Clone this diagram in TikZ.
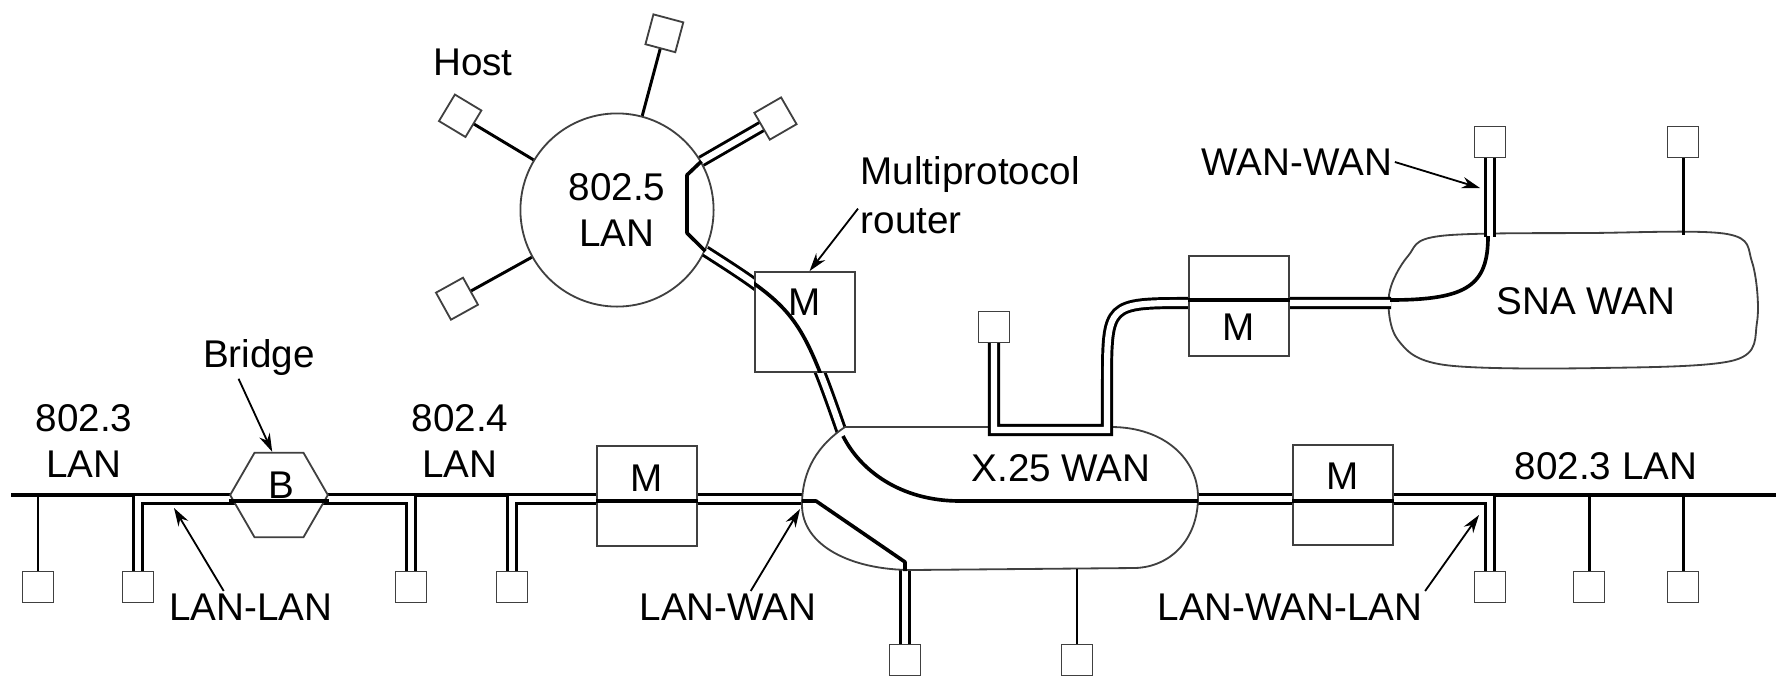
\documentclass[tikz,border=0pt]{standalone}
\usepackage{fontspec}
\setmainfont{Liberation Sans}
\usetikzlibrary{arrows.meta,shapes.geometric,calc}

\tikzset{
  host/.style={draw=black!75, fill=white, line width=0.8pt, minimum size=13.6pt, inner sep=0pt},
  router/.style={draw=black!75, fill=white, line width=0.8pt, minimum size=44pt, inner sep=0pt},
  bridgebox/.style={draw=black!75, fill=white, line width=0.8pt, regular polygon, regular polygon sides=6, minimum size=43pt, inner sep=0pt},
  netline/.style={draw=black!75, fill=white, line width=0.8pt},
  bus/.style={line width=1.7pt},
  drop/.style={line width=1.3pt},
  inner/.style={line width=1.6pt, line join=round},
  route/.style={double=white, double distance=2.7pt, line width=1.3pt},
  pointer/.style={line width=0.8pt, -{Stealth[length=8pt, width=5pt]}},
  lbl/.style={inner sep=1pt, align=center},
}

\begin{document}
\begin{tikzpicture}[x=0.44pt, y=-0.44pt, font=\fontsize{17}{20}\selectfont]
  \useasboundingbox (0,0) rectangle (1776,677);

  %% =========================================================
  %% HOST POSITIONS -- pixel grid, y runs down
  %% =========================================================
  \coordinate (pa) at (38,587);    % 802.3 LAN, left
  \coordinate (pb) at (138,587);
  \coordinate (pc) at (411,587);   % 802.4 LAN
  \coordinate (pd) at (512,587);
  \coordinate (pe) at (905,660);   % below X.25
  \coordinate (pf) at (1077,660);
  \coordinate (pg) at (994,327);   % above X.25
  \coordinate (ph) at (1490,587);  % 802.3 LAN, right
  \coordinate (pi) at (1589,587);
  \coordinate (pj) at (1683,587);
  \coordinate (pk) at (1490,142);  % above SNA
  \coordinate (pl) at (1683,142);
  \coordinate (busW) at (11,495);
  \coordinate (busE) at (1776,495);

  %% token ring and its hosts
  \node[netline, circle, minimum size=85pt, inner sep=0pt, align=center] (ring) at (617,210) {802.5\\LAN};
  \foreach \a/\n in {75/ra, 149/rb, 209/rc, 30/rd}
    \coordinate (\n) at ($(ring.center)+(\a:80.5pt)$);

  %% BUS
  \draw[bus] (busW) -- (busE);

  %% ROUTES (under the networks)
  \draw[route] (pb) |- (279,499) -| (pc);           % LAN-LAN
  \draw[route] (pd) |- (822,499);                   % LAN-WAN
  \draw[route] (905,560) -- (pe);
  \draw[route] (rd) -- (ring.30);                   % LAN-WAN-LAN
  \draw[route] (ring.335) .. controls (800,312) .. (848,450);
  \draw[route] (1185,499) -| (ph);

  %% =========================================================
  %% WANs
  %% =========================================================
  \draw[netline] (845,427) -- (1111,427)
    .. controls (1165,427) and (1198,460) .. (1198,497)
    .. controls (1198,540) and (1170,567) .. (1135,568) -- (912,570)
    .. controls (850,570) and (802,545) .. (802,505)
    .. controls (802,470) and (818,445) .. (845,427) -- cycle;
  \draw[netline] plot[smooth cycle, tension=0.55] coordinates
    {(1440,236) (1590,233) (1727,234) (1752,262) (1757,322) (1735,360)
     (1600,368) (1445,365) (1398,340) (1389,295) (1408,256)};

  %% WAN-WAN
  \draw[route] (pg) |- (1107,430) -- (1107,385) .. controls (1107,303) .. (1190,303) -- (1391,303);
  \draw[route] (pk |- 0,237) -- (pk);

  %% ROUTERS AND BRIDGE
  \node[router] (m1) at (805,322) {};
  \node[router] (m2) at (647,496) {};
  \node[router] (m3) at (1343,495) {};
  \node[router] (m4) at (1239,306) {};
  \node[bridgebox] (br) at (279,495) {};

  \begin{scope}
    \clip (m1.south west) rectangle (m1.north east);
    \draw[inner] (ring.335) .. controls (800,312) .. (848,450);
  \end{scope}
  \draw[inner] (m2.west |- 0,501) -- (m2.east |- 0,501);
  \draw[inner] (m3.west |- 0,501) -- (m3.east |- 0,501);
  \draw[inner] (m4.west |- 0,300) -- (m4.east |- 0,300);
  \draw[inner] (br.west |- 0,501) -- (br.east |- 0,501);

  \node (m1t) at (805,302) {M};
  \node (m2t) at (647,478) {M};
  \node (m3t) at (1343,476) {M};
  \node (m4t) at (1239,327) {M};
  \node (brt) at (281,485) {B};

  %% paths inside the networks
  \draw[inner] (ring.30) -- (687,175) -- (687,233) -- (ring.335);
  \draw[inner] (843,436) .. controls (860,470) and (900,501) .. (960,501) -- (1198,501);
  \draw[inner] (802,501) -- (816,501) -- (905,562) -- (905,571);
  \draw[inner] (1390,300) .. controls (1468,300) and (1488,285) .. (1488,236);

  %% single drops
  \draw[drop] (pa) -- (pa |- busW);
  \draw[drop] (pi) -- (pi |- busE);
  \draw[drop] (pj) -- (pj |- busE);
  \draw[drop] (pf) -- (1077,569);
  \draw[drop] (pl) -- (1683,235);
  \foreach \n/\a in {ra/75, rb/149, rc/209}
    \draw[drop] (ring.\a) -- (\n);

  %% HOSTS
  \foreach \n in {a,...,l}
    \node[host] (host\n) at (p\n) {};
  \foreach \n/\a in {ra/75, rb/149, rc/209, rd/30}
    \node[host, rotate=\a] (host\n) at (\n) {};

  %% LABELS
  \node[lbl] (l8023) at (84,441) {802.3\\LAN};
  \node[lbl] (lbridge) at (259,358) {Bridge};
  \node[lbl] (l8024) at (460,441) {802.4\\LAN};
  \node[lbl] (llanlan) at (251,607) {LAN-LAN};
  \node[lbl] (llanwan) at (728,607) {LAN-WAN};
  \node[lbl] (lx25) at (1061,468) {X.25 WAN};
  \node[lbl] (llwl) at (1290,607) {LAN-WAN-LAN};
  \node[lbl] (l8023r) at (1606,466) {802.3 LAN};
  \node[lbl] (lhost) at (473,62) {Host};
  \node[lbl, align=left, anchor=west] (lrouter) at (858,195) {Multiprotocol\\[1.5pt]router};
  \node[lbl] (lwanwan) at (1297,162) {WAN-WAN};
  \node[lbl] (lsna) at (1586,301) {SNA WAN};

  %% ARROWS
  \coordinate (tipLL) at (174,508);
  \coordinate (tipLW) at (800,509);
  \coordinate (tipLWL) at (1479,515);
  \coordinate (tipWW) at (1480,188);
  \draw[pointer] ([xshift=-9pt]lbridge.south) -- ([xshift=-3pt]br.north);
  \draw[pointer] ([xshift=-12pt]llanlan.north) -- (tipLL);
  \draw[pointer] ([xshift=10pt]llanwan.north) -- (tipLW);
  \draw[pointer] (llwl.north east) -- (tipLWL);
  \draw[pointer] ([yshift=-6pt]lrouter.west) -- ([xshift=2pt]m1.north);
  \draw[pointer] (lwanwan.east) -- (tipWW);

\end{tikzpicture}
\end{document}
